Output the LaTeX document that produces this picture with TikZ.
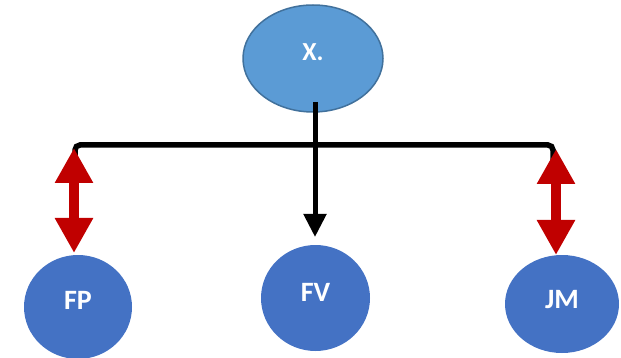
\documentclass[tikz,border=0pt]{standalone}
\usepackage{fontspec}
\setmainfont{Carlito}
\usetikzlibrary{arrows.meta,shapes.geometric,calc}
\definecolor{topfill}{HTML}{5B9BD5}
\definecolor{topdraw}{HTML}{41719C}
\definecolor{botfill}{HTML}{4472C4}
\definecolor{redarr}{HTML}{C00000}
\tikzset{
  topnode/.style={ellipse,fill=topfill,draw=topdraw,line width=1.5pt,inner sep=0pt,
    text=white,font=\fontsize{26}{26}\selectfont\bfseries},
  botnode/.style={ellipse,fill=botfill,inner sep=0pt,
    text=white,font=\fontsize{28}{28}\selectfont\bfseries},
  barline/.style={line width=5.5pt,rounded corners=5pt},
  downarrow/.style={line width=5pt,-{Triangle[width=22pt,length=23pt]}},
  redarrow/.style={redarr,line width=10pt,
    {Triangle[width=36pt,length=35pt]}-{Triangle[width=36pt,length=35pt]}}
}
\begin{document}
\begin{tikzpicture}[x=1pt,y=-1pt]
\useasboundingbox (0,0) rectangle (621,358);
\node[topnode,minimum width=140pt,minimum height=107pt] (X) at (313,58.5) {\raisebox{12pt}{X.}};
\node[botnode,minimum width=108pt,minimum height=104pt] (FP) at (78,307) {\raisebox{14pt}{FP}};
\node[botnode,minimum width=109pt,minimum height=106pt] (FV) at (315.5,298) {\raisebox{12pt}{FV}};
\node[botnode,minimum width=114pt,minimum height=98pt] (JM) at (562,304) {\raisebox{10pt}{JM}};
\coordinate (ls) at (75,170);
\coordinate (lc) at (75,145);
\coordinate (rc) at (553,145);
\coordinate (rs) at (553,170);
\coordinate (xs) at (315,102);
\coordinate (fvt) at (315,237);
\coordinate (lt) at (74,148);
\coordinate (lb) at (74,253);
\coordinate (rt) at (556,149);
\coordinate (rb) at (556,255);
\draw[barline] (ls) -- (lc) -- (rc) -- (rs);
\draw[downarrow] (xs) -- (fvt);
\draw[redarrow] (lt) -- (lb);
\draw[redarrow] (rt) -- (rb);
\end{tikzpicture}
\end{document}
